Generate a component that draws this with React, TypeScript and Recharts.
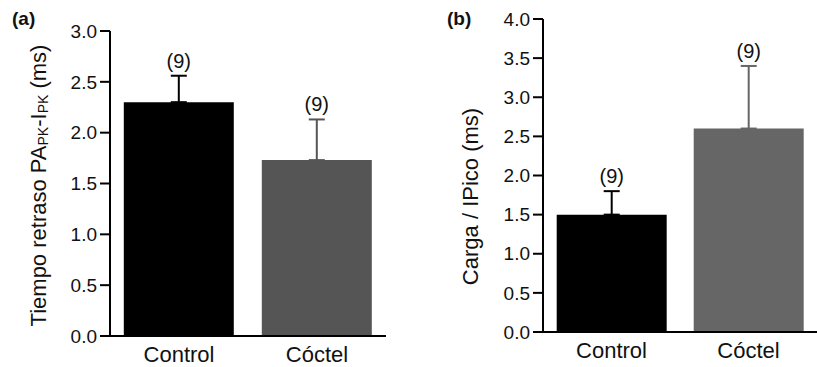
import { BarChart, Bar, Cell, XAxis, YAxis, ErrorBar, LabelList, Label } from 'recharts'

const categories = ['Control', 'Cóctel']
const nMuestras = [9, 9]

// (a) tiempo de retraso
const retrasoMedia = [2.3, 1.73]
const retrasoError = [0.26, 0.4]
const retrasoTicks = [0, 0.5, 1, 1.5, 2, 2.5, 3]

// (b) carga / IPico
const cargaMedia = [1.5, 2.6]
const cargaError = [0.3, 0.8]
const cargaTicks = [0, 0.5, 1, 1.5, 2, 2.5, 3, 3.5, 4]

const coloresA = ['#000000', '#555555']
const coloresB = ['#000000', '#666666']

const FONT = '"Liberation Sans", Arial, sans-serif'

function buildData(media: number[], error: number[]) {
  return categories.map((name, i) => ({
    name,
    value: media[i],
    n: nMuestras[i],
    err0: i === 0 ? [0, error[i]] : null,
    err1: i === 1 ? [0, error[i]] : null,
  }))
}

type PanelProps = {
  data: any[]
  colors: string[]
  ticks: number[]
  width: number
  height: number
  margin: any
  axisWidth: number
  labelX: number
  labelShift: number
  label: any
}

function Panel({ data, colors, ticks, width, height, margin, axisWidth, labelX, labelShift, label }: PanelProps) {
  const renderCount = (p: any) => {
    const d = data[p.index]
    if (!d) return null
    const perUnit = p.height / d.value
    const errTop = d.err0 ? d.err0[1] : d.err1[1]
    const yTop = p.y - errTop * perUnit
    return (
      <text x={p.x + p.width / 2} y={yTop - 8} textAnchor="middle" style={{ fontSize: 20 }} fontFamily={FONT} fill="#111">
        ({p.value})
      </text>
    )
  }

  const renderLabel = (p: any) => {
    const vb = p.viewBox
    const cx = vb.x + labelX
    const cy = vb.y + vb.height / 2 + labelShift
    return (
      <text
        x={cx}
        y={cy}
        transform={`rotate(-90, ${cx}, ${cy})`}
        textAnchor="middle"
        dominantBaseline="central"
        style={{ fontSize: 22 }}
        fontFamily={FONT}
        fill="#111"
      >
        {label}
      </text>
    )
  }

  return (
    <BarChart width={width} height={height} data={data} margin={margin} barCategoryGap="10%">
      <XAxis
        dataKey="name"
        tickLine={false}
        tickSize={8}
        tickMargin={2}
        height={28}
        axisLine={{ stroke: '#000', strokeWidth: 2 }}
        tick={{ fill: '#111', fontSize: 22, fontFamily: FONT }}
      />
      <YAxis
        type="number"
        domain={[ticks[0], ticks[ticks.length - 1]]}
        ticks={ticks}
        interval={0}
        width={axisWidth}
        tickSize={10}
        tickMargin={3}
        tickFormatter={(v: number) => v.toFixed(1)}
        axisLine={{ stroke: '#000', strokeWidth: 2 }}
        tickLine={{ stroke: '#000', strokeWidth: 2 }}
        tick={{ fill: '#111', fontSize: 19, fontFamily: FONT }}
      >
        <Label content={renderLabel} />
      </YAxis>
      <Bar dataKey="value" isAnimationActive={false}>
        {data.map((_, i) => (
          <Cell key={`c-${i}`} fill={colors[i]} />
        ))}
        <ErrorBar dataKey="err0" direction="y" width={8} strokeWidth={2} stroke={colors[0]} isAnimationActive={false} />
        <ErrorBar dataKey="err1" direction="y" width={8} strokeWidth={2} stroke={colors[1]} isAnimationActive={false} />
        <LabelList dataKey="n" content={renderCount} />
      </Bar>
    </BarChart>
  )
}

export default function App() {
  const dataA = buildData(retrasoMedia, retrasoError)
  const dataB = buildData(cargaMedia, cargaError)

  const labelA = (
    <>
      Tiempo retraso PA
      <tspan style={{ fontSize: 14 }} dy={5}>PK</tspan>
      <tspan dy={-5}>-I</tspan>
      <tspan style={{ fontSize: 14 }} dy={5}>PK</tspan>
      <tspan dy={-5}> (ms)</tspan>
    </>
  )

  return (
    <div style={{ position: 'absolute', left: 0, top: 0, width: 817, height: 367, background: '#fff', fontFamily: FONT }}>
      <div style={{ position: 'absolute', left: 0, top: 0 }}>
        <Panel
          data={dataA}
          colors={coloresA}
          ticks={retrasoTicks}
          width={410}
          height={367}
          margin={{ top: 31, right: 24, bottom: 3, left: 0 }}
          axisWidth={110}
          labelX={38}
          labelShift={2}
          label={labelA}
        />
      </div>
      <div style={{ position: 'absolute', left: 410, top: 0 }}>
        <Panel
          data={dataB}
          colors={coloresB}
          ticks={cargaTicks}
          width={407}
          height={367}
          margin={{ top: 19, right: 0, bottom: 7, left: 0 }}
          axisWidth={133}
          labelX={60}
          labelShift={21}
          label="Carga / IPico (ms)"
        />
      </div>
      <div style={{ position: 'absolute', left: 12, top: 9, fontSize: 19, lineHeight: '19px', fontWeight: 'bold', color: '#111' }}>(a)</div>
      <div style={{ position: 'absolute', left: 447, top: 9, fontSize: 19, lineHeight: '19px', fontWeight: 'bold', color: '#111' }}>(b)</div>
    </div>
  )
}
